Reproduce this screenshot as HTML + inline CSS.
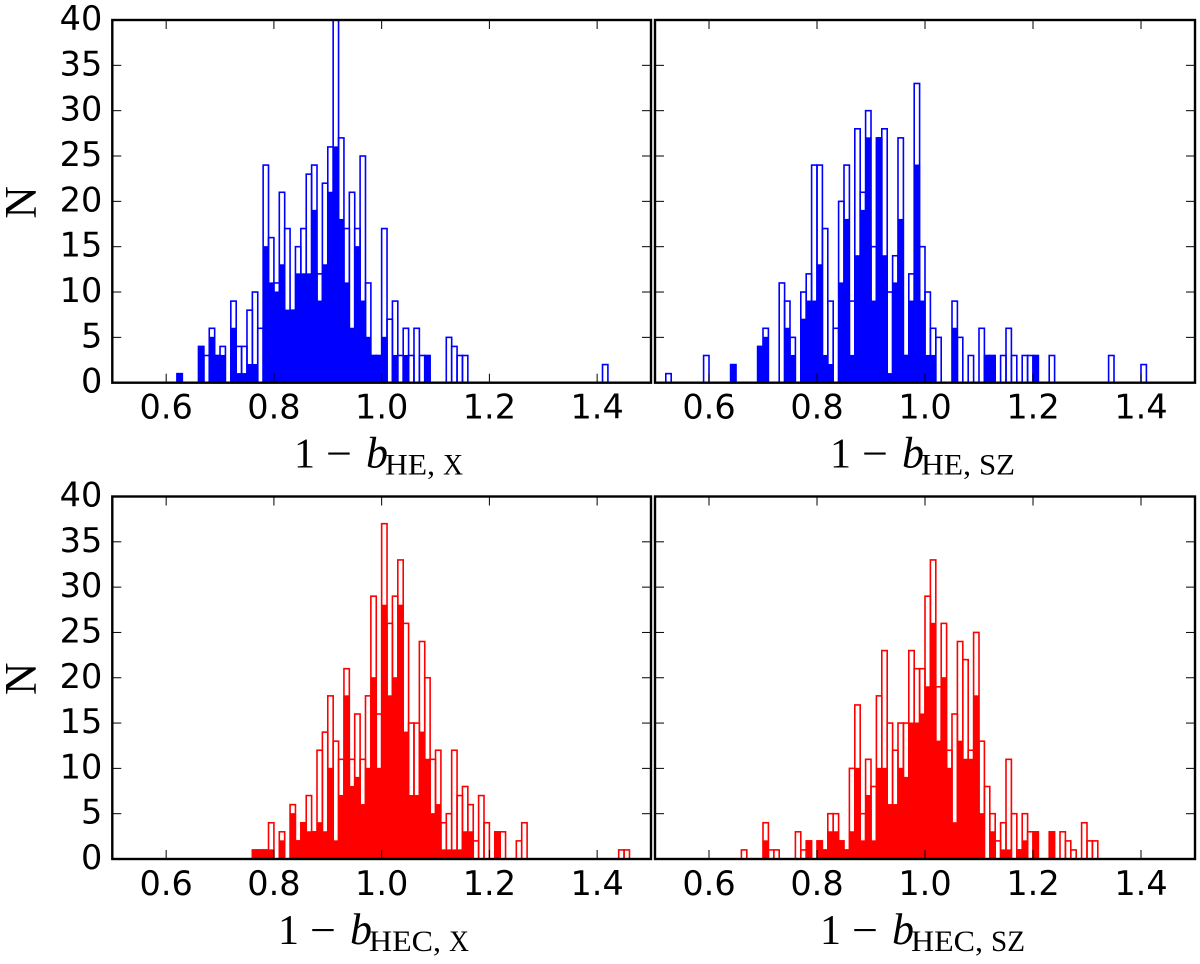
<!DOCTYPE html>
<html lang="en">
<head>
<meta charset="utf-8">
<title>Histograms of 1 - b for HE and HEC masses</title>
<style>
html,body{margin:0;padding:0;background:#fff;}
svg{display:block;}
.tick-label{font-family:"DejaVu Sans","Liberation Sans",sans-serif;font-size:33.5px;fill:#000;}
.math{font-family:"Liberation Serif",serif;fill:#000;}
</style>
</head>
<body>
<svg id="figure" xmlns="http://www.w3.org/2000/svg" width="1200" height="964" viewBox="0 0 1200 964">
<rect x="0" y="0" width="1200" height="964" fill="#fff"/>
<defs id="defs"></defs>
</svg>
<script>
// Histogram counts per bin: 100 bins of width 0.01 starting at 0.5
const binStart = 0.5;
const binWidth = 0.01;
const xTicks = [0.6, 0.8, 1.0, 1.2, 1.4];
const yTicks = [0, 5, 10, 15, 20, 25, 30, 35, 40];

const heXAll = [
0,0,0,0,0,0,0,0,0,0,
0,0,1,0,0,0,4,3,6,3,
4,0,9,4,4,8,10,6,24,16,
11,21,17,8,15,17,23,24,12,22,
26,44,27,17,21,17,25,11,3,3,
17,7,9,3,6,3,6,3,3,0,
0,0,5,4,3,3,0,0,0,0,
0,0,0,0,0,0,0,0,0,0,
0,0,0,0,0,0,0,0,0,0,
0,2,0,0,0,0,0,0,0,0];
const heXSub = [
0,0,0,0,0,0,0,0,0,0,
0,0,1,0,0,0,4,0,5,3,
3,0,6,1,1,2,2,0,15,11,
10,13,8,8,12,12,12,19,9,13,
21,26,18,11,6,15,9,5,3,3,
5,0,3,0,3,0,0,0,3,0,
0,0,0,0,0,0,0,0,0,0,
0,0,0,0,0,0,0,0,0,0,
0,0,0,0,0,0,0,0,0,0,
0,0,0,0,0,0,0,0,0,0];

const heSzAll = [
0,0,1,0,0,0,0,0,0,3,
0,0,0,0,2,0,0,0,0,4,
6,0,0,11,9,5,0,10,12,24,
24,17,9,6,20,24,9,28,21,30,
15,27,28,10,14,27,3,12,33,15,
10,6,5,0,0,9,5,0,3,0,
6,3,3,0,3,6,3,0,3,3,
3,0,0,3,0,0,0,0,0,0,
0,0,0,0,3,0,0,0,0,0,
2,0,0,0,0,0,0,0,0,0];
const heSzSub = [
0,0,0,0,0,0,0,0,0,0,
0,0,0,0,2,0,0,0,0,4,
5,0,0,0,6,3,0,7,9,9,
13,3,2,0,11,18,3,14,19,27,
9,27,14,1,11,18,3,9,24,9,
3,3,0,0,0,6,0,0,0,0,
0,3,3,0,0,0,0,0,0,0,
3,0,0,0,0,0,0,0,0,0,
0,0,0,0,0,0,0,0,0,0,
0,0,0,0,0,0,0,0,0,0];

const hecXAll = [
0,0,0,0,0,0,0,0,0,0,
0,0,0,0,0,0,0,0,0,0,
0,0,0,0,0,0,1,1,1,4,
0,3,0,6,2,4,7,3,12,14,
18,13,11,21,11,16,11,18,29,16,
37,26,29,33,26,15,15,24,20,11,
12,4,5,12,7,8,6,2,7,4,
0,3,3,0,0,2,4,0,0,0,
0,0,0,0,0,0,0,0,0,0,
0,0,0,0,1,1,0,0,0,0];
const hecXSub = [
0,0,0,0,0,0,0,0,0,0,
0,0,0,0,0,0,0,0,0,0,
0,0,0,0,0,0,1,1,1,1,
0,2,0,5,2,4,3,3,4,3,
10,2,7,18,8,9,6,10,20,10,
28,18,20,28,14,7,7,14,11,5,
6,1,1,1,1,3,3,0,0,0,
0,3,0,0,0,0,0,0,0,0,
0,0,0,0,0,0,0,0,0,0,
0,0,0,0,0,0,0,0,0,0];

const hecSzAll = [
0,0,0,0,0,0,0,0,0,0,
0,0,0,0,0,0,1,0,0,0,
4,1,1,0,0,0,3,1,2,0,
2,1,5,5,2,1,10,17,5,11,
8,18,23,15,12,15,15,23,21,21,
29,33,19,26,12,16,24,22,12,25,
13,8,5,2,4,11,5,1,5,3,
3,0,0,3,0,3,2,1,0,4,
2,2,0,0,0,0,0,0,0,0,
0,0,0,0,0,0,0,0,0,0];
const hecSzSub = [
0,0,0,0,0,0,0,0,0,0,
0,0,0,0,0,0,0,0,0,0,
2,0,0,0,0,0,0,0,2,0,
2,1,3,3,2,1,3,10,2,7,
2,10,10,6,6,10,9,15,15,16,
19,26,13,20,10,4,13,11,11,18,
5,0,3,0,1,1,0,1,2,0,
3,0,0,3,0,0,0,0,0,0,
0,0,0,0,0,0,0,0,0,0,
0,0,0,0,0,0,0,0,0,0];

const SVGNS = 'http://www.w3.org/2000/svg';
const figure = document.getElementById('figure');
const defs = document.getElementById('defs');

function make(tag, attrs, parent) {
  const el = document.createElementNS(SVGNS, tag);
  for (const k in attrs) el.setAttribute(k, attrs[k]);
  parent.appendChild(el);
  return el;
}

const X_MIN = 0.5, X_MAX = 1.5, Y_MAX = 40;

function drawPanel(p) {
  const xScale = v => p.left + (v - X_MIN) / (X_MAX - X_MIN) * (p.right - p.left);
  const yScale = v => p.bottom - v / Y_MAX * (p.bottom - p.top);

  const group = make('g', {}, figure);
  
  

  const clip = make('clipPath', {id: 'clip-' + p.name}, defs);
  make('rect', {x: p.left, y: p.top, width: p.right - p.left, height: p.bottom - p.top}, clip);

  const marks = make('g', {'clip-path': 'url(#clip-' + p.name + ')'}, group);
  
  

  // filled sub-sample bars
  p.sub.forEach((count, i) => {
    if (!count) return;
    const x0 = xScale(binStart + i * binWidth);
    const x1 = xScale(binStart + (i + 1) * binWidth);
    const bar = make('rect', {x: x0, y: yScale(count), width: x1 - x0, height: yScale(0) - yScale(count),
      fill: p.color, stroke: p.color, 'stroke-width': 1.1}, marks);
    
    
  });
  // hollow full-sample bars
  p.all.forEach((count, i) => {
    if (!count) return;
    const x0 = xScale(binStart + i * binWidth);
    const x1 = xScale(binStart + (i + 1) * binWidth);
    const bar = make('rect', {x: x0, y: yScale(count), width: x1 - x0, height: yScale(0) - yScale(count),
      fill: 'none', stroke: p.color, 'stroke-width': 1.6}, marks);
    
    
  });

  // ticks
  const TICK = 9;
  xTicks.forEach(t => {
    const x = xScale(t);
    const bt = make('line', {x1: x, x2: x, y1: p.bottom, y2: p.bottom - TICK, stroke: '#000', 'stroke-width': 1}, group);
    
    
    const tt = make('line', {x1: x, x2: x, y1: p.top, y2: p.top + TICK, stroke: '#000', 'stroke-width': 1}, group);
    
    
    const lab = make('text', {x: x, y: p.bottom + 36, 'text-anchor': 'middle', class: 'tick-label'}, group);
    
    
    lab.textContent = t.toFixed(1);
  });
  yTicks.forEach(t => {
    const y = yScale(t);
    const lt = make('line', {x1: p.left, x2: p.left + TICK, y1: y, y2: y, stroke: '#000', 'stroke-width': 1}, group);
    
    
    const rt = make('line', {x1: p.right, x2: p.right - TICK, y1: y, y2: y, stroke: '#000', 'stroke-width': 1}, group);
    
    
    if (p.showY) {
      const lab = make('text', {x: p.left - 10, y: y + 10, 'text-anchor': 'end', class: 'tick-label'}, group);
      
      
      lab.textContent = String(t);
    }
  });

  // frame
  const frame = make('rect', {x: p.left, y: p.top, width: p.right - p.left, height: p.bottom - p.top,
    fill: 'none', stroke: '#000', 'stroke-width': 2.4}, group);
  
  

  // y axis title
  if (p.showY) {
    const cy = (p.top + p.bottom) / 2 + 1;
    const n = make('text', {x: 36, y: cy, 'text-anchor': 'middle', class: 'math', 'font-size': 45,
      transform: 'rotate(-90 36 ' + cy + ')'}, group);
    
    
    n.textContent = 'N';
  }

  // x axis title
  const base = p.bottom + 85;
  const title = make('g', {}, group);
  
  
  const one = make('text', {x: p.labelX - 3, y: base, class: 'math', 'font-size': 42}, title);
  one.textContent = '1';
  const minus = make('text', {x: p.labelX + 29, y: base, class: 'math', 'font-size': 42, textLength: 26, lengthAdjust: 'spacingAndGlyphs'}, title);
  minus.textContent = '\u2212';
  const b = make('text', {x: p.labelX + 69, y: base, class: 'math', 'font-size': 44, 'font-style': 'italic'}, title);
  b.textContent = 'b';
  const sub1 = make('text', {x: p.labelX + 88, y: base + 7, class: 'math', 'font-size': 30, textLength: p.subW1, lengthAdjust: 'spacingAndGlyphs'}, title);
  sub1.textContent = p.sub1;
  const sub2 = make('text', {x: p.labelX + 88 + p.subGap, y: base + 7, class: 'math', 'font-size': 30, textLength: p.subW2, lengthAdjust: 'spacingAndGlyphs'}, title);
  sub2.textContent = p.sub2;
}

drawPanel({name: 'panel-he-x', left: 112.3, right: 651, top: 20, bottom: 382.7, color: '#0000ff', all: heXAll, sub: heXSub, showY: true,
  labelX: 297, sub1: 'HE,', sub2: 'X', subW1: 50, subGap: 58, subW2: 20});
drawPanel({name: 'panel-he-sz', left: 655, right: 1195, top: 20, bottom: 382.7, color: '#0000ff', all: heSzAll, sub: heSzSub, showY: false,
  labelX: 833, sub1: 'HE,', sub2: 'SZ', subW1: 50, subGap: 58, subW2: 36});
drawPanel({name: 'panel-hec-x', left: 112.3, right: 651, top: 496.5, bottom: 859, color: '#ff0000', all: hecXAll, sub: hecXSub, showY: true,
  labelX: 281, sub1: 'HEC,', sub2: 'X', subW1: 72, subGap: 80, subW2: 20});
drawPanel({name: 'panel-hec-sz', left: 655, right: 1195, top: 496.5, bottom: 859, color: '#ff0000', all: hecSzAll, sub: hecSzSub, showY: false,
  labelX: 823, sub1: 'HEC,', sub2: 'SZ', subW1: 72, subGap: 80, subW2: 34});
</script>
</body>
</html>
